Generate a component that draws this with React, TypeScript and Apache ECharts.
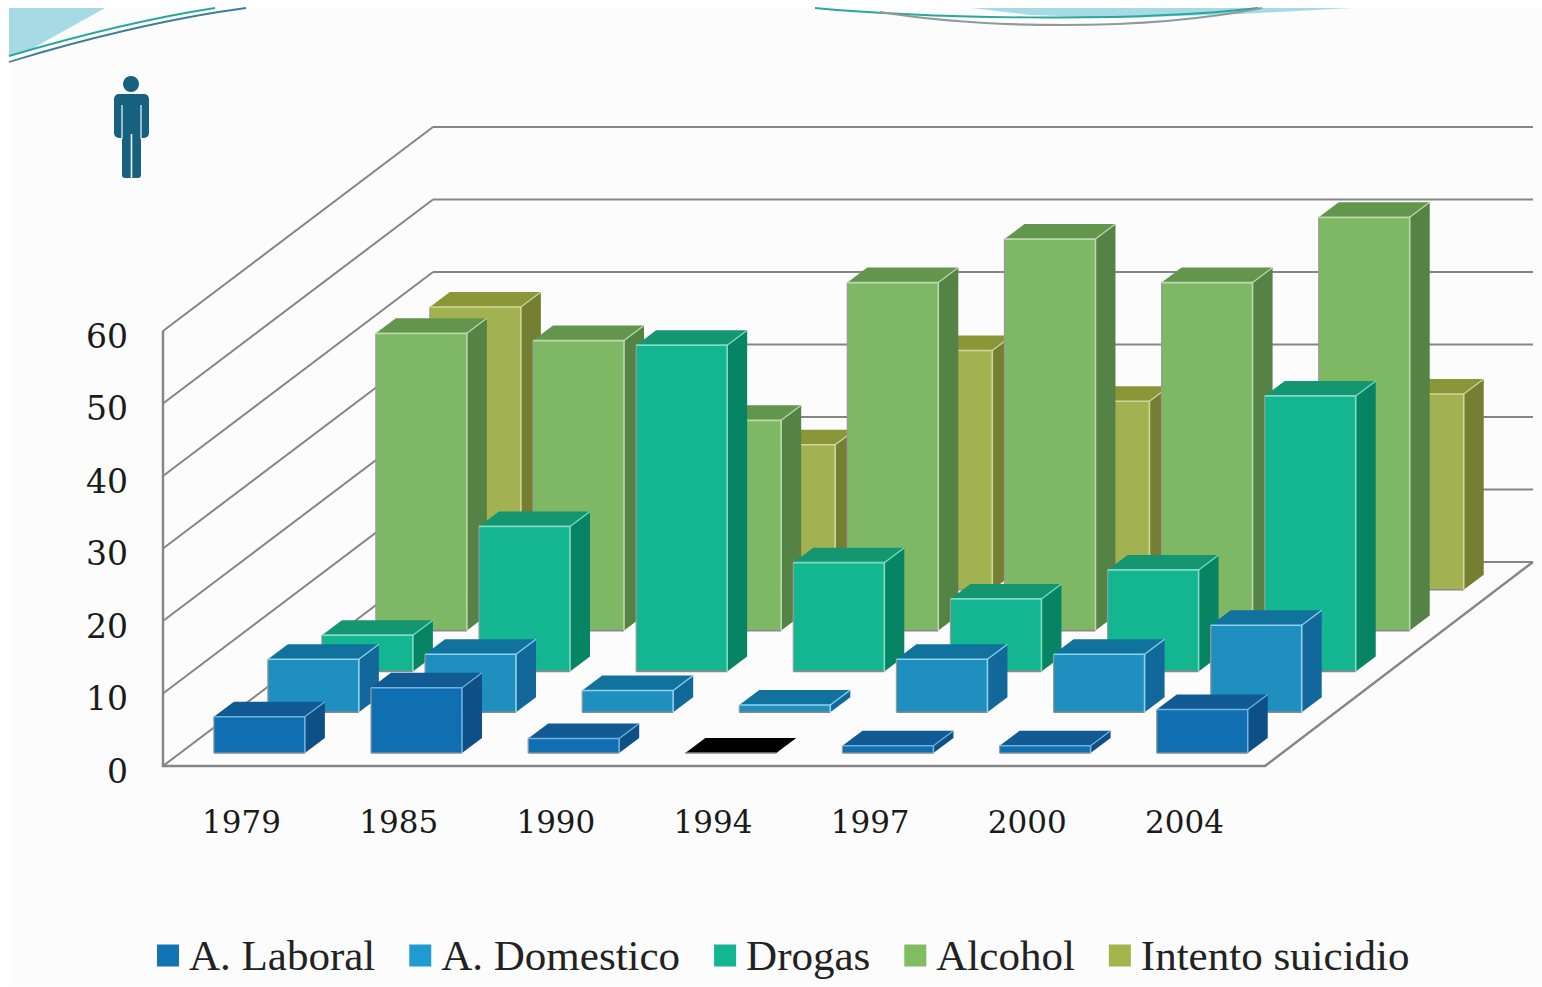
import React, { useEffect, useRef } from "react";
import * as echarts from "echarts";

const years = ["1979", "1985", "1990", "1994", "1997", "2000", "2004"];
const laboral = [5, 9, 2, 0, 1, 1, 6];
const domestico = [7.3, 8, 3, 1, 7.3, 8, 12];
const drogas = [5, 20, 45, 15, 10, 14, 38];
const alcohol = [41, 40, 29, 48, 54, 48, 57];
const intento = [39, 30, 20, 33, 26, 20, 27];
const yTicks = [0, 10, 20, 30, 40, 50, 60];
const legendNames = ["A. Laboral", "A. Domestico", "Drogas", "Alcohol", "Intento suicidio"];

const SERIF = "Liberation Serif";
const NUM = "DejaVu Serif";
const DEPTH_X = 270;
const DEPTH_Y = 204;
const ROW_X = 54;
const ROW_Y = 40.8;
const BAR_W = 91;
const BAR_DX = 20;
const BAR_DY = 15;
const WALL = "#858585";

const rows = [
  { name: legendNames[0], values: laboral, legend: "#1274b4", front: "#0f6fb0", top: "#115a94", side: "#0e4f86", light: "#6fb4dc" },
  { name: legendNames[1], values: domestico, legend: "#1f9ccf", front: "#1f8fc0", top: "#11729e", side: "#12689a", light: "#8fd3ea" },
  { name: legendNames[2], values: drogas, legend: "#13b690", front: "#13b690", top: "#149670", side: "#078464", light: "#7fdcc4" },
  { name: legendNames[3], values: alcohol, legend: "#7fbc62", front: "#7fb865", top: "#62964d", side: "#558245", light: "#bcd8ac" },
  { name: legendNames[4], values: intento, legend: "#a3b44a", front: "#a3b250", top: "#8a9638", side: "#757f31", light: "#cfd79b" },
];

function poly(points: number[][], fill: string) {
  return { type: "polygon", shape: { points }, style: { fill, stroke: null } };
}
function edge(points: number[][], stroke: string, lineWidth = 1.6) {
  return { type: "polyline", shape: { points }, style: { fill: null, stroke, lineWidth } };
}

function barRenderer(rowIndex: number) {
  const c = rows[rowIndex];
  return (_p: any, api: any) => {
    const i = api.value(0);
    const v = api.value(1);
    const [cx, y0] = api.coord([i, 0]);
    const [, y1] = api.coord([i, v]);
    const ox = 17.8 + ROW_X * rowIndex;
    const oy = -13 - ROW_Y * rowIndex;
    const l = cx - BAR_W / 2 + ox;
    const r = l + BAR_W;
    const b = y0 + oy;
    const t = y1 + oy;
    const zero = v === 0;
    const topFill = zero ? "#000000" : c.top;
    const children: any[] = [];
    if (!zero) {
      children.push(poly([[l, t], [r, t], [r, b], [l, b]], c.front));
      children.push(poly([[r, t], [r + BAR_DX, t - BAR_DY], [r + BAR_DX, b - BAR_DY], [r, b]], c.side));
    }
    children.push(poly([[l, t], [l + BAR_DX, t - BAR_DY], [r + BAR_DX, t - BAR_DY], [r, t]], topFill));
    children.push(edge([[l, b], [r, b]], "#8a8a8a"));
    if (!zero) {
      children.push(edge([[l, t], [l, b]], "#9a9a9a", 1.2));
      children.push(edge([[l, t], [r, t], [r, b]], c.light));
      children.push(edge([[r, t], [r + BAR_DX, t - BAR_DY]], c.light, 1.2));
    }
    return { type: "group", children };
  };
}

function wallRenderer(_p: any, api: any) {
  const cs = _p.coordSys;
  const v = api.value(1);
  const [, y] = api.coord([0, v]);
  const left = cs.x;
  const backX = left + DEPTH_X;
  const backR = backX + 1100;
  const children: any[] = [
    edge([[left, y], [backX, y - DEPTH_Y]], WALL, 2),
    edge([[backX, y - DEPTH_Y], [backR, y - DEPTH_Y]], WALL, 2.2),
  ];
  if (v === 0) {
    const right = cs.x + cs.width + 2;
    const topY = api.coord([0, 60])[1];
    children.push(edge([[left, topY], [left, y], [right, y], [backR, y - DEPTH_Y]], WALL, 2.4));
  }
  return { type: "group", children };
}

const decoration = [
  { type: "rect", z: -10, shape: { x: 9, y: 8, width: 1533, height: 978 }, style: { fill: "#fcfcfc" } },
  { type: "polygon", shape: { points: [[9, 8], [105, 8], [28, 51], [9, 56]] }, style: { fill: "#a6dbe6" } },
  { type: "bezierCurve", shape: { x1: 9, y1: 56, cpx1: 70, cpy1: 38, cpx2: 150, cpy2: 18, x2: 215, y2: 8 }, style: { stroke: "#2aa79b", lineWidth: 2.2, fill: null } },
  { type: "bezierCurve", shape: { x1: 9, y1: 62, cpx1: 80, cpy1: 40, cpx2: 170, cpy2: 18, x2: 246, y2: 8 }, style: { stroke: "#3d7f97", lineWidth: 1.8, fill: null } },
  { type: "polygon", shape: { points: [[972, 8], [1352, 8], [1240, 14], [1120, 18], [1030, 15]] }, style: { fill: "#a6dbe6" } },
  { type: "bezierCurve", shape: { x1: 815, y1: 8, cpx1: 920, cpy1: 18, cpx2: 1130, cpy2: 23, x2: 1258, y2: 8 }, style: { stroke: "#2aa79b", lineWidth: 1.8, fill: null } },
  { type: "bezierCurve", shape: { x1: 880, y1: 12, cpx1: 980, cpy1: 28, cpx2: 1140, cpy2: 32, x2: 1262, y2: 8 }, style: { stroke: "#8f9a9c", lineWidth: 2.2, fill: null } },
  { type: "circle", shape: { cx: 131, cy: 84, r: 8 }, style: { fill: "#17607f" } },
  { type: "rect", shape: { x: 114, y: 94, width: 35, height: 44, r: 5 }, style: { fill: "#17607f" } },
  { type: "rect", shape: { x: 122, y: 120, width: 19, height: 58, r: 3 }, style: { fill: "#17607f" } },
  { type: "line", shape: { x1: 122, y1: 105, x2: 122, y2: 139 }, style: { stroke: "#cfe4ec", lineWidth: 1.4 } },
  { type: "line", shape: { x1: 141, y1: 105, x2: 141, y2: 139 }, style: { stroke: "#cfe4ec", lineWidth: 1.4 } },
  { type: "line", shape: { x1: 131.5, y1: 134, x2: 131.5, y2: 178 }, style: { stroke: "#e8f2f5", lineWidth: 1.6 } },
];

export default function App() {
  const ref = useRef<HTMLDivElement>(null);
  useEffect(() => {
    const chart = echarts.init(ref.current!, null, { renderer: "svg" });
    chart.setOption({
      animation: false,
      backgroundColor: "#ffffff",
      graphic: { elements: decoration },
      grid: { left: 163, right: 279, top: 331, bottom: 221, containLabel: false },
      legend: {
        data: legendNames,
        left: 152,
        top: 929,
        itemWidth: 22,
        itemHeight: 22,
        itemGap: 34,
        icon: "rect",
        textStyle: { fontFamily: SERIF, fontSize: 43, color: "#222222", padding: [0, 0, 0, 5] },
      },
      xAxis: {
        type: "category",
        data: years,
        axisLine: { show: false },
        axisTick: { show: false },
        axisLabel: { fontFamily: NUM, fontSize: 31, color: "#1a1a1a", margin: 40 },
      },
      yAxis: {
        type: "value",
        min: 0,
        max: 60,
        interval: 10,
        axisLine: { show: false },
        axisTick: { show: false },
        splitLine: { show: false },
        axisLabel: { fontFamily: NUM, fontSize: 33, color: "#1a1a1a", margin: 35, verticalAlign: "top", lineHeight: 10 },
      },
      series: [
        {
          type: "custom",
          name: "walls",
          z: 1,
          silent: true,
          coordinateSystem: "cartesian2d",
          renderItem: wallRenderer,
          encode: { x: 0, y: 1 },
          data: yTicks.map((v) => [0, v]),
        },
        ...rows.map((row, k) => ({
          type: "custom",
          name: row.name,
          z: 7 - k,
          coordinateSystem: "cartesian2d",
          renderItem: barRenderer(k),
          encode: { x: 0, y: 1 },
          itemStyle: { color: row.legend },
          data: row.values.map((v, i) => [i, v]),
        })),
      ],
    });
    return () => chart.dispose();
  }, []);
  return <div ref={ref} style={{ position: "fixed", left: 0, top: 0, width: 1542, height: 987 }} />;
}
